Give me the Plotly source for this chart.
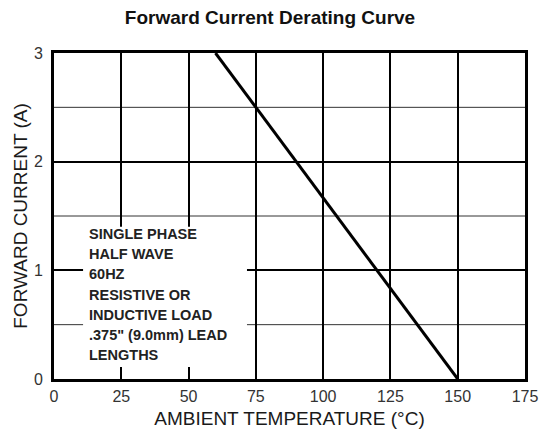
import plotly.graph_objects as go

# Data
temp = [60, 150]          # ambient temperature (°C)
current = [3.0, 0.0]      # forward current (A)
x_ticks = [0, 25, 50, 75, 100, 125, 150, 175]
y_ticks = [0, 1, 2, 3]
note_lines = ["SINGLE PHASE", "HALF WAVE", "60HZ", "RESISTIVE OR",
              "INDUCTIVE LOAD", ".375\" (9.0mm) LEAD", "LENGTHS"]

FONT = "Liberation Sans, Arial, sans-serif"

fig = go.Figure()
fig.add_trace(go.Scatter(x=temp, y=current, mode="lines",
                         line=dict(color="black", width=3), showlegend=False,
                         hoverinfo="skip"))

# minor horizontal gridlines
for yv in [0.5, 1.5, 2.5]:
    fig.add_shape(type="line", xref="x", yref="y", x0=0, x1=175, y0=yv, y1=yv,
                  line=dict(color="#333333", width=1), layer="below")

# white box behind note text
fig.add_shape(type="rect", xref="x", yref="y", x0=10.8, x1=71.7, y0=0.11, y1=1.40,
              fillcolor="white", line=dict(width=0), layer="above")

# note text lines
top_px = 234
for i, t in enumerate(note_lines):
    ypx = top_px + i * 20.2
    yv = (379 - ypx) / (326 / 3)
    fig.add_annotation(x=12.3, y=yv, xref="x", yref="y", text="<b>" + t + "</b>",
                       showarrow=False, xanchor="left", yanchor="middle",
                       font=dict(family=FONT, size=14.5, color="#222222"))

fig.update_layout(
    width=540, height=433,
    margin=dict(l=54, r=15, t=53, b=54, autoexpand=False),
    paper_bgcolor="white", plot_bgcolor="white",
    title=dict(text="<b>Forward Current Derating Curve</b>", x=0.5, xanchor="center",
               y=1 - 17 / 433, yanchor="middle",
               font=dict(family=FONT, size=19, color="#111111")),
)
fig.update_xaxes(range=[0, 175], tickvals=x_ticks, ticktext=[str(v) for v in x_ticks],
                 automargin=False,
                 showgrid=True, gridcolor="black", gridwidth=2,
                 showline=True, linecolor="black", linewidth=3, mirror=True,
                 zeroline=False, ticks="", ticklabelstandoff=1,
                 tickfont=dict(family=FONT, size=16, color="#333333"),
                 title=dict(text="AMBIENT TEMPERATURE (°C)", standoff=8,
                            font=dict(family=FONT, size=19, color="#1a1a1a")))
fig.update_yaxes(range=[0, 3], tickvals=y_ticks, ticktext=[str(v) for v in y_ticks],
                 automargin=False,
                 showgrid=True, gridcolor="black", gridwidth=2,
                 showline=True, linecolor="black", linewidth=3, mirror=True,
                 zeroline=False, ticks="", ticklabelstandoff=5,
                 tickfont=dict(family=FONT, size=16, color="#333333"),
                 title=dict(text="FORWARD CURRENT (A)", standoff=2,
                            font=dict(family=FONT, size=19, color="#1a1a1a")))

fig.write_html("out.html", config={"displayModeBar": False},
               post_script="document.body.style.margin='0';document.body.style.padding='0';")
